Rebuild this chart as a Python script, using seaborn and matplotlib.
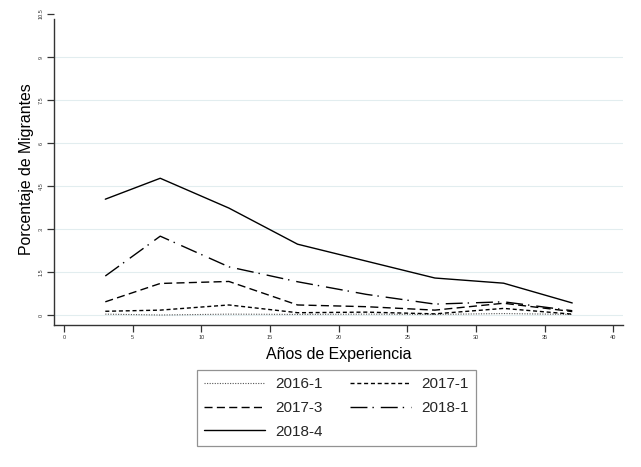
import matplotlib
matplotlib.use("Agg")
import matplotlib.pyplot as plt
import seaborn as sns
import pandas as pd

# Años de experiencia (marcas de clase)
experiencia = [3, 7, 12, 17, 22, 27, 32, 37]

# Porcentaje de migrantes por cohorte
pct_2016_1 = [0.03, 0.00, 0.03, 0.02, 0.03, 0.02, 0.05, 0.02]
pct_2017_1 = [0.13, 0.17, 0.35, 0.08, 0.10, 0.04, 0.23, 0.03]
pct_2017_3 = [0.46, 1.10, 1.17, 0.35, 0.29, 0.17, 0.41, 0.12]
pct_2018_1 = [1.36, 2.75, 1.68, 1.16, 0.72, 0.38, 0.46, 0.15]
pct_2018_4 = [4.04, 4.77, 3.73, 2.47, 1.88, 1.29, 1.11, 0.42]

cohortes = ["2016-1", "2017-1", "2017-3", "2018-1", "2018-4"]
valores = [pct_2016_1, pct_2017_1, pct_2017_3, pct_2018_1, pct_2018_4]

y_ticks = [0, 1.5, 3, 4.5, 6, 7.5, 9, 10.5]
y_ticklabels = ["0", "1.5", "3", "4.5", "6", "7.5", "9", "10.5"]
x_ticks = [0, 5, 10, 15, 20, 25, 30, 35, 40]

df = pd.DataFrame(
    [(c, x, v) for c, serie in zip(cohortes, valores) for x, v in zip(experiencia, serie)],
    columns=["cohorte", "experiencia", "pct"],
)

sns.set_theme(style="white")
plt.rcParams["font.family"] = ["Liberation Sans", "DejaVu Sans"]

estilos = {
    "2016-1": dict(color="#555555", lw=0.8, linestyle=(0, (1.0, 1.3))),
    "2017-1": dict(color="black", lw=1.0, linestyle=(0, (2.9, 2.0))),
    "2017-3": dict(color="black", lw=1.0, linestyle=(0, (5.8, 3.1))),
    "2018-1": dict(color="black", lw=1.0, linestyle=(0, (12.2, 3.6, 1.0, 5.0))),
    "2018-4": dict(color="black", lw=1.0, linestyle="-"),
}

fig = plt.figure(figsize=(6.41, 4.67), dpi=100)
ax = fig.add_axes([0.085, 0.304, 0.887, 0.666])

handles = {}
for c in cohortes:
    sub = df[df["cohorte"] == c]
    sns.lineplot(data=sub, x="experiencia", y="pct", ax=ax, **estilos[c])
    handles[c] = ax.lines[-1]

ax.set_xlim(-0.7, 40.7)
ax.set_ylim(-0.35, 10.5)

ax.set_yticks(y_ticks)
ax.set_yticklabels(y_ticklabels, rotation=90, va="center")
ax.set_xticks(x_ticks)
ax.set_xticklabels([str(t) for t in x_ticks])

ax.tick_params(axis="both", labelsize=4, labelcolor="#333333", colors="#333333",
               length=5, width=0.9, direction="out", pad=2.5)
ax.tick_params(left=True, bottom=True)

# rejilla horizontal tenue
ax.yaxis.grid(True, color="#e2edef", lw=0.8)
ax.xaxis.grid(False)
ax.get_ygridlines()[-1].set_visible(False)
ax.set_axisbelow(True)

for s in ["top", "right"]:
    ax.spines[s].set_visible(False)
for s in ["left", "bottom"]:
    ax.spines[s].set_color("#333333")
    ax.spines[s].set_linewidth(1.0)
ax.spines["left"].set_bounds(-0.35, 10.32)

ax.set_xlabel("Años de Experiencia", fontsize=11.4, labelpad=5, color="black")
ax.set_ylabel("Porcentaje de Migrantes", fontsize=11.4, labelpad=3.5, color="black")

orden = ["2016-1", "2017-3", "2018-4", "2017-1", "2018-1"]
leg = fig.legend(
    [handles[c] for c in orden], orden,
    ncol=2, loc="upper left", bbox_to_anchor=(197 / 641, 1 - 370 / 467),
    fontsize=11, frameon=True, fancybox=False, handlelength=4.0,
    handletextpad=0.65, columnspacing=1.8, labelspacing=0.63,
    borderpad=0.48, borderaxespad=0,
)
leg.get_frame().set_edgecolor("#777777")
leg.get_frame().set_linewidth(0.9)

fig.savefig("out.png", dpi=100)
